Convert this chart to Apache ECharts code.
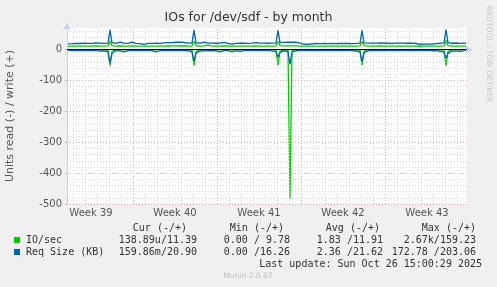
<!DOCTYPE html>
<html><head><meta charset="utf-8">
<script src="https://cdn.jsdelivr.net/npm/echarts@6/dist/echarts.min.js"></script>
<style>html,body{margin:0;padding:0;background:#f0f0f0}#c{width:497px;height:287px}</style>
</head><body><div id="c"></div>
<script>
// time slots: hours since the left edge of the graph (2-hour offset, 4-hour steps)
const firstHour = 2, stepHours = 4;

// IO/sec, write (+)
const ioWrite = [
11.4,11.3,11.5,11.6,11.4,11.5,11.3,11.4,11.6,11.5,11.4,11.3,11.5,11.6,11.7,11.9,11.6,11.5,11.4,11.5,
11.8,29.0,12.6,11.7,11.5,11.6,11.9,11.7,11.5,11.4,11.3,11.5,11.8,11.6,11.4,11.3,11.2,11.0,11.1,11.4,
11.5,11.6,11.4,11.5,11.6,11.5,11.4,11.3,11.6,11.8,11.7,11.9,11.8,11.7,11.9,11.8,11.7,11.6,11.8,11.6,
11.5,11.4,11.7,28.0,12.5,11.8,11.6,11.7,12.2,13.8,14.6,12.1,11.6,11.5,11.4,11.5,11.6,11.4,11.7,11.5,
11.4,11.3,11.1,11.0,11.3,11.4,11.5,11.6,11.5,11.4,11.3,11.5,11.6,11.7,11.9,11.6,11.5,11.4,11.5,11.6,
11.5,11.4,11.6,11.7,12.0,27.0,12.8,11.9,11.8,12.0,11.9,11.7,11.9,12.0,11.9,11.8,11.5,11.3,11.1,11.0,
11.0,11.1,11.2,11.3,11.4,11.3,11.2,11.4,11.5,11.3,11.2,11.4,11.5,11.3,11.2,11.3,11.4,11.5,11.4,11.3,
11.4,11.5,11.3,11.2,11.4,11.5,11.8,27.0,12.6,11.7,11.6,11.7,11.5,11.4,11.6,11.5,11.7,11.6,11.4,11.5,
11.6,11.5,11.4,11.5,11.6,11.5,11.4,11.3,11.5,11.6,11.4,11.3,11.4,11.3,11.2,11.0,10.9,10.9,11.0,11.0,
11.1,10.9,11.0,11.2,11.3,11.4,11.5,11.6,11.9,30.0,12.8,11.8,11.5,11.7,11.6,11.5,11.4,11.4,11.4,11.39
];
// IO/sec, read (-)
const ioRead = [
0.4,0.3,0.5,0.4,0.3,0.4,0.5,0.3,0.4,0.3,0.4,0.5,0.3,0.4,0.5,0.6,0.8,1.2,0.6,0.5,
2.5,53.0,6.0,1.2,0.6,1.0,0.5,0.4,0.9,0.5,0.4,0.3,0.4,0.5,0.3,0.4,0.3,0.4,0.3,0.4,
0.5,0.8,0.4,0.3,0.9,0.4,0.3,0.4,0.3,0.4,0.5,0.4,0.3,0.4,0.5,0.4,0.3,0.4,0.5,0.4,
0.5,0.6,1.5,53.0,5.5,1.4,0.7,1.1,0.6,0.8,0.5,0.6,0.4,0.9,0.5,0.4,1.0,0.5,0.4,0.5,
0.4,0.5,1.0,0.5,0.4,0.3,0.8,0.4,0.3,0.4,0.3,0.4,0.3,0.4,0.3,0.4,0.3,0.4,0.3,0.4,
0.4,0.5,0.6,0.8,1.5,51.0,4.5,1.0,0.6,0.5,2.0,483.0,3.0,0.8,0.5,0.4,0.5,0.4,0.3,0.4,
0.4,0.3,0.4,0.3,0.4,0.7,0.4,0.3,0.4,0.3,0.4,0.3,0.4,0.5,0.4,0.3,0.4,0.5,0.4,0.3,
0.4,0.5,0.4,0.6,0.8,1.0,1.6,51.0,5.0,1.0,0.5,0.8,0.4,0.3,0.4,0.3,0.4,0.3,0.4,0.3,
0.4,0.3,0.4,0.3,0.4,0.3,0.4,0.3,0.4,0.3,0.4,0.3,0.4,0.3,0.4,0.3,0.4,0.3,0.4,0.3,
0.4,0.3,0.4,0.5,0.4,0.6,0.8,0.9,1.5,53.0,5.5,1.2,0.6,0.9,0.7,0.5,0.8,0.4,0.3,0.0001
];
// Req Size (KB), write (+)
const reqWrite = [
18.5,18.8,19.2,20.1,20.4,20.0,19.8,20.3,20.6,20.2,19.9,20.1,20.5,20.8,21.5,23.8,21.0,20.4,20.2,20.6,
21.2,63.0,22.4,20.8,20.5,21.0,24.2,21.6,20.7,20.3,20.1,20.5,23.9,21.2,20.4,20.0,19.6,17.2,17.0,19.8,
20.3,20.6,20.2,20.5,21.0,20.7,20.4,20.1,21.8,23.5,22.8,23.6,22.9,23.4,24.0,23.2,23.8,22.7,23.5,22.4,
21.0,20.6,21.4,63.0,22.2,20.8,21.3,22.9,24.3,21.8,20.9,20.5,20.7,20.4,20.6,20.3,20.8,20.5,23.7,21.0,
20.4,19.8,17.8,17.5,19.9,20.3,20.6,21.0,20.8,20.5,20.2,20.6,20.9,21.2,22.5,21.0,20.7,20.4,20.8,21.1,
20.6,20.3,20.8,21.2,22.0,62.0,22.8,21.5,23.6,24.4,23.8,22.5,23.9,24.6,24.2,23.5,21.0,19.6,18.0,17.4,
17.3,17.6,18.8,19.5,19.8,19.6,19.4,19.9,20.1,19.7,19.5,19.8,20.0,19.6,19.3,19.5,19.8,20.2,19.9,19.6,
19.8,20.1,19.7,19.5,20.0,20.3,21.2,62.0,21.8,20.6,20.9,21.3,21.0,20.7,21.1,20.8,21.4,21.0,20.6,20.9,
21.2,20.8,20.5,20.9,21.3,21.0,20.7,20.4,20.8,21.1,20.6,20.3,20.7,20.4,19.8,17.6,17.3,17.2,17.5,17.4,
17.6,17.3,17.5,18.2,19.6,20.2,20.6,21.0,21.8,65.0,22.4,21.2,20.6,23.8,21.4,20.6,20.2,20.5,20.8,20.9
];
// Req Size (KB), read (-)
const reqRead = [
2.5,2.8,3.0,2.6,2.4,2.9,3.1,2.7,2.5,2.8,3.0,2.6,2.9,3.2,2.8,3.5,5.2,7.8,4.0,3.2,
6.5,43.0,12.0,5.6,3.8,8.2,4.1,3.5,7.0,3.6,3.0,2.8,3.2,3.6,2.9,2.7,3.1,2.8,2.6,3.0,
3.3,6.8,3.5,3.0,7.5,3.4,2.9,3.1,2.8,3.2,3.5,3.0,2.7,2.9,3.3,3.1,2.8,3.0,3.4,3.2,
3.6,4.0,7.2,40.0,11.5,6.2,4.5,7.8,3.9,5.5,3.7,4.2,3.5,6.4,3.8,3.3,7.0,3.6,3.2,3.5,
3.3,3.7,7.6,3.8,3.4,3.1,5.8,3.5,3.2,2.9,3.1,3.4,3.0,2.8,3.2,3.5,3.1,2.9,3.3,3.6,
3.2,3.5,3.8,4.2,6.0,25.0,9.0,4.5,3.8,3.4,6.5,48.0,8.5,4.0,3.6,3.2,3.5,3.0,2.8,3.1,
3.4,3.0,2.7,2.9,3.3,5.5,3.2,2.8,3.0,3.3,2.9,2.7,3.1,3.4,3.0,2.8,3.2,3.5,3.1,2.9,
3.2,3.6,3.3,3.8,4.5,5.8,7.2,40.0,10.5,4.8,3.6,6.0,3.4,3.1,3.5,3.2,2.9,3.3,3.0,2.8,
3.1,3.4,3.0,2.7,3.2,3.5,3.1,2.9,3.3,3.0,2.8,3.2,3.5,3.1,2.9,3.3,3.0,2.8,3.1,3.4,
3.0,3.3,3.6,4.0,3.5,4.2,5.5,6.0,8.5,28.0,12.0,7.5,4.8,6.5,5.2,4.0,5.8,3.6,3.2,0.16
];

const weekLabels = ['Week 39','Week 40','Week 41','Week 42','Week 43'];
const weekCenterHours = [48, 216, 384, 552, 720];
const weekStartHours = [132, 300, 468, 636];
const firstDayHour = 12, dayHours = 24, rangeHours = 800;

const legendHeaders = ['Cur (-/+)','Min (-/+)','Avg (-/+)','Max (-/+)'];
const seriesNames = ['IO/sec','Req Size (KB)'];
const ioStats = ['138.89u/11.39','0.00 / 9.78','1.83 /11.91','2.67k/159.23'];
const reqStats = ['159.86m/20.90','0.00 /16.26','2.36 /21.62','172.78 /203.06'];
const titleText = 'IOs for /dev/sdf - by month';
const yName = 'Units read (-) / write (+)';
const lastUpdate = 'Last update: Sun Oct 26 15:00:29 2025';
const footer = 'Munin 2.0.67';
const watermark = 'RRDTOOL / TOBI OETIKER';

const GREEN = '#00cc00', BLUE = '#0066b3';
const hours = ioWrite.map((_, i) => firstHour + i * stepHours);
const pts = (arr, sign) => arr.map((v, i) => [hours[i], sign * v]);

const dayLines = [];
for (let h = firstDayHour; h < rangeHours; h += dayHours) {
  if (weekStartHours.indexOf(h) < 0) dayLines.push({ xAxis: h });
}
const weekLines = weekStartHours.map(h => ({ xAxis: h }));

const mono = '10px "DejaVu Sans Mono"';
const txt = (text, x, y, align, font, fill) => ({
  type: 'text', x: x, y: y, silent: true,
  style: { text: text, font: font || mono, fill: fill || '#333',
           textAlign: align || 'left', align: align || 'left',
           textVerticalAlign: 'middle', verticalAlign: 'middle' }
});
const headerRight = [187, 284, 380, 476];
const colRight = [197, 290, 383, 476];
const graphics = [
  txt(titleText, 248.5, 18, 'center', '12.5px "DejaVu Sans"', '#333'),
  Object.assign(txt(watermark, 489, 54, 'center', '7.5px "DejaVu Sans"', '#c8c8c8'), { rotation: -Math.PI / 2 }),
  { type: 'rect', silent: true, shape: { x: 14, y: 237, width: 6, height: 6 }, style: { fill: GREEN } },
  { type: 'rect', silent: true, shape: { x: 14, y: 249, width: 6, height: 6 }, style: { fill: BLUE } },
  txt(seriesNames[0], 26, 240),
  txt(seriesNames[1], 26, 252),
  txt(lastUpdate, 482, 264, 'right'),
  txt(footer, 248, 276, 'center', '7.5px "DejaVu Sans"', '#c0c0c0')
];
legendHeaders.forEach((t, i) => graphics.push(txt(t, headerRight[i], 228, 'right')));
ioStats.forEach((t, i) => graphics.push(txt(t, colRight[i], 240, 'right')));
reqStats.forEach((t, i) => graphics.push(txt(t, colRight[i], 252, 'right')));

const AXIS = '#c8ccf4';
const chart = echarts.init(document.getElementById('c'), null, { renderer: 'canvas' });
chart.setOption({
  animation: false,
  backgroundColor: '#f0f0f0',
  grid: { left: 67, top: 28, width: 400, height: 176, show: true, backgroundColor: '#ffffff', borderWidth: 0,
          containLabel: false, outerBoundsMode: 'none' },
  xAxis: {
    type: 'value', min: 0, max: rangeHours,
    axisLine: { show: true, lineStyle: { color: AXIS, width: 1 }, symbol: ['none', 'arrow'], symbolSize: [6, 7], symbolOffset: [0, 5] },
    axisTick: { show: false },
    splitLine: { show: false },
    axisLabel: {
      customValues: weekCenterHours, margin: 4,
      formatter: v => weekLabels[weekCenterHours.indexOf(v)] || '',
      color: '#555', fontSize: 10, fontFamily: 'DejaVu Sans'
    }
  },
  yAxis: [
    { type: 'value', min: -500, max: 70, interval: 20, position: 'left',
      axisLine: { show: false }, axisTick: { show: false }, axisLabel: { show: false },
      splitLine: { show: true, showMaxLine: false, lineStyle: { color: '#d6d6d6', type: [1, 2], width: 1 } } },
    { type: 'value', min: -500, max: 70, interval: 100, position: 'left',
      name: yName, nameLocation: 'middle', nameGap: 51,
      nameTextStyle: { color: '#555', fontSize: 11, fontFamily: 'DejaVu Sans' },
      axisLine: { show: true, lineStyle: { color: AXIS, width: 1 }, symbol: ['none', 'arrow'], symbolSize: [6, 7], symbolOffset: [0, 5] },
      axisTick: { show: true, length: 2, lineStyle: { color: '#bbbbbb' } },
      axisLabel: { showMaxLabel: false, color: '#555', fontSize: 10, fontFamily: 'DejaVu Sans', margin: 5 },
      splitLine: { show: true, showMaxLine: false, lineStyle: { color: '#e6a8a8', type: [1, 2], width: 1 } } }
  ],
  series: [
    { type: 'line', z: 1, data: [], silent: true,
      markLine: { silent: true, symbol: 'none', label: { show: false },
        data: dayLines.map(d => Object.assign({ lineStyle: { color: '#d6d6d6', type: [1, 2], width: 1 } }, d))
          .concat(weekLines.map(d => Object.assign({ lineStyle: { color: '#e6a8a8', type: [1, 2], width: 1 } }, d))) } },
    { name: 'IO/sec read', type: 'line', z: 2, data: pts(ioRead, -1), showSymbol: false, symbol: 'none',
      lineStyle: { color: GREEN, width: 1.3 } },
    { name: 'IO/sec write', type: 'line', z: 3, data: pts(ioWrite, 1), showSymbol: false, symbol: 'none',
      lineStyle: { color: GREEN, width: 1.3 } },
    { type: 'line', z: 4, data: [], silent: true,
      markLine: { silent: true, symbol: 'none', label: { show: false },
        data: [{ yAxis: 0, lineStyle: { color: '#000', type: 'solid', width: 1 } }] } },
    { name: 'Req Size read', type: 'line', z: 5, data: pts(reqRead, -1), showSymbol: false, symbol: 'none',
      lineStyle: { color: BLUE, width: 1.3 } },
    { name: 'Req Size write', type: 'line', z: 6, data: pts(reqWrite, 1), showSymbol: false, symbol: 'none',
      lineStyle: { color: BLUE, width: 1.3 } }
  ],
  graphic: graphics
});
</script></body></html>
